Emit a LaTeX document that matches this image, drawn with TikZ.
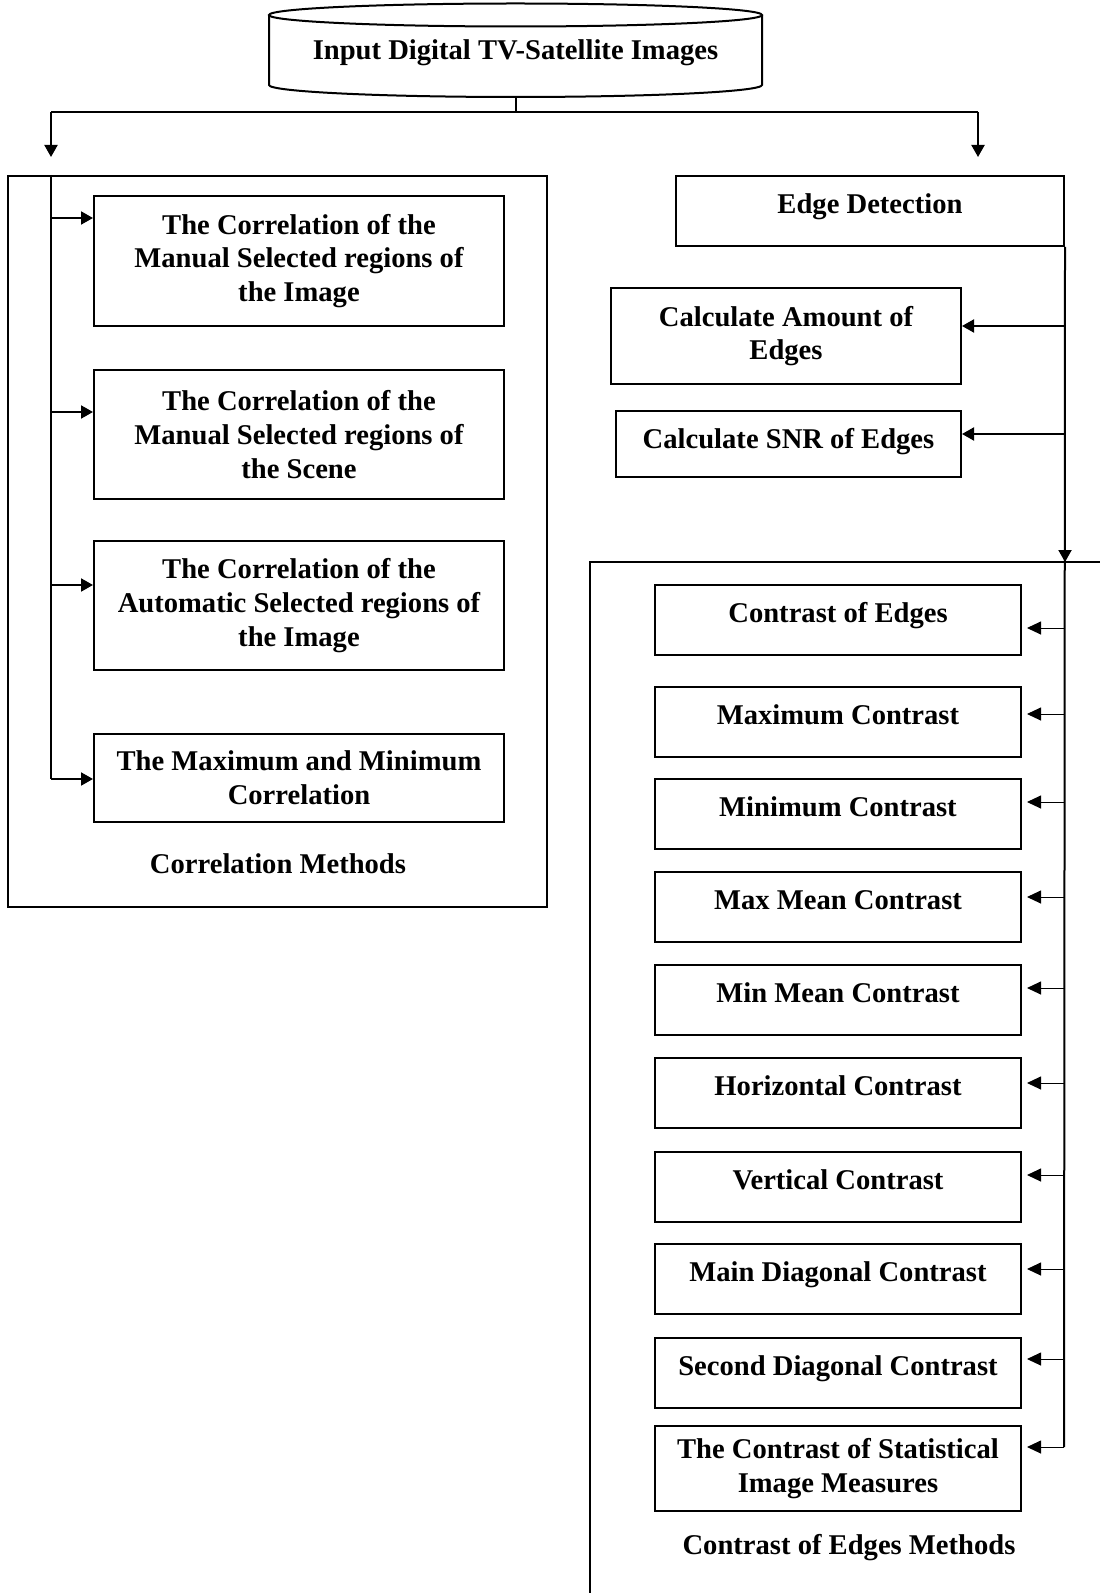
\documentclass[tikz,border=0pt]{standalone}
\usepackage{fontspec}
\setmainfont{Liberation Serif}
\usetikzlibrary{arrows.meta,positioning,calc}
\tikzstyle{box}=[draw,line width=1pt,align=center,inner sep=0pt,font=\bfseries\fontsize{14.3}{16.8}\selectfont]
\tikzstyle{cbox}=[box,minimum width=183pt,minimum height=35pt,text height=10pt,text depth=7.5pt]
\tikzstyle{lbox}=[box,minimum width=205pt]
\tikzstyle{caption}=[font=\bfseries\fontsize{14.3}{16.8}\selectfont]
\tikzstyle{spine}=[line width=1pt]
\tikzstyle{arr}=[line width=1pt,-{Triangle[length=6pt,width=6.5pt]}]
\tikzstyle{thinarr}=[line width=0.5pt,-{Triangle[length=7pt,width=6.5pt]},shorten >=2.5pt]

\begin{document}
\begin{tikzpicture}[x=0.5pt,y=-0.5pt]
\useasboundingbox (0,0) rectangle (1100,1593);

% Input drum
\node[caption,minimum width=246.5pt,minimum height=44pt,inner sep=0pt] (input) at (515.5,53) {Input Digital TV-Satellite Images};
\draw[line width=1pt] (515.5,15) ellipse [x radius=123.25pt,y radius=5.75pt];
\draw[line width=1pt] (269,15) -- (269,85) arc[start angle=180,end angle=360,x radius=123.25pt,y radius=6pt] -- (762,15);

% Split into the two branches
\coordinate (hl) at (51,112);
\coordinate (hr) at (978,112);
\coordinate (dl) at (51,157);
\coordinate (dr) at (978,157);
\draw[spine] (input.south) -- (input.south |- hl);
\draw[spine] (hl) -- (hr);
\draw[arr] (hl) -- (dl);
\draw[arr] (hr) -- (dr);

% Correlation methods
\node[draw,line width=1pt,minimum width=269.5pt,minimum height=365.5pt] (corr) at (277.5,541.5) {};
\node[lbox,minimum height=65pt] (c1) at (299,261) {The Correlation of the\\Manual Selected regions of\\the Image};
\node[lbox,minimum height=64.5pt] (c2) at (299,434.5) {The Correlation of the\\Manual Selected regions of\\the Scene};
\node[lbox,minimum height=64.5pt] (c3) at (299,605.5) {The Correlation of the\\Automatic Selected regions of\\the Image};
\node[lbox,minimum height=44pt] (c4) at (299,778) {The Maximum and Minimum\\Correlation};
\node[caption] (corrlbl) at (278,864) {Correlation Methods};

\foreach \y / \name in {218/1, 412/2, 585/3, 779/4}
  \coordinate (l\name) at (51,\y);
\draw[spine] (corr.north -| l1) -- (l4);
\foreach \name in {1,2,3,4}
  \draw[arr] (l\name) -- (l\name -| c\name.west);

% Edge detection branch
\node[box,minimum width=194pt,minimum height=35pt,text height=10pt,text depth=7.5pt] (ed) at (870,211) {Edge Detection};
\node[box,minimum width=175pt,minimum height=48pt] (amt) at (786,336) {Calculate Amount of\\Edges};
\node[box,minimum width=172.5pt,minimum height=33pt,text height=10pt,text depth=5pt] (snr) at (788.5,444) {Calculate SNR of Edges};

\coordinate (ramt) at (1064,326);
\coordinate (rsnr) at (1064,434);
\coordinate (grp) at (590,562);
\draw[line width=1pt] (590,1593) -- (grp) -- (1100,562);

% Contrast of edges methods
\foreach \y / \name / \txt in {620/1/Contrast of Edges,
722/2/Maximum Contrast,
814/3/Minimum Contrast,
906.5/4/Max Mean Contrast,
1000/5/Min Mean Contrast,
1093/6/Horizontal Contrast,
1186.5/7/Vertical Contrast,
1279/8/Main Diagonal Contrast,
1373/9/Second Diagonal Contrast}
\node[cbox] (k\name) at (838,\y) {\txt};
\node[box,minimum width=183pt,minimum height=42.5pt] (k10) at (838,1468.5) {The Contrast of Statistical\\Image Measures};
\node[caption] (contlbl) at (849,1548) {Contrast of Edges Methods};

\foreach \y / \name in {628/1, 714/2, 802/3, 897/4, 988/5, 1083/6, 1175/7, 1269/8, 1359/9, 1447/10}
  \coordinate (r\name) at (1064,\y);

\draw[spine] (ed.south east) -- (r10);
\draw[arr] (ed.south east) -- (ed.south east |- grp);
\draw[arr] (ramt) -- (ramt -| amt.east);
\draw[arr] (rsnr) -- (rsnr -| snr.east);
\foreach \name in {1,...,10}
  \draw[thinarr] (r\name) -- (r\name -| k\name.east);

\end{tikzpicture}
\end{document}
